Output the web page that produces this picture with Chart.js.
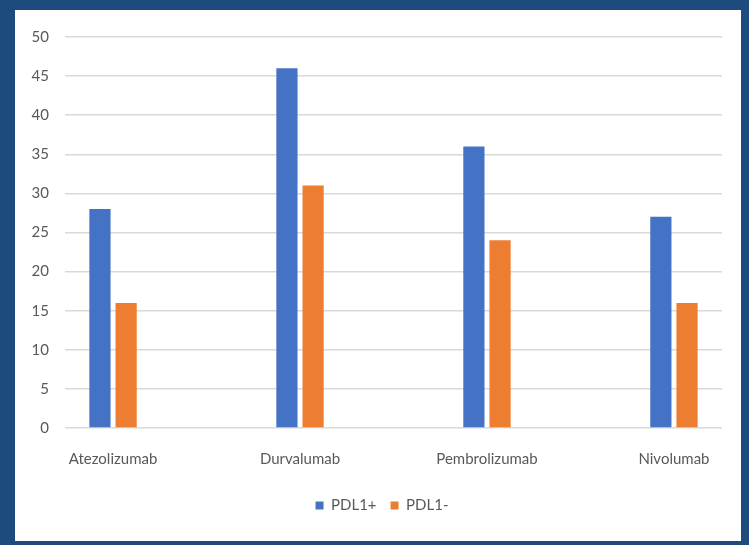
<!DOCTYPE html>
<html>
<head>
<meta charset="utf-8">
<script src="https://cdn.jsdelivr.net/npm/chart.js@4"></script>
<style>
  body { margin: 0; background: #1d4b7e; width: 749px; height: 545px; overflow: hidden; }
  #sheet { position: absolute; left: 15px; top: 10px; width: 726px; height: 531px; background: #ffffff; }
  #cv { position: absolute; left: 0; top: 0; }
</style>
</head>
<body>
<div id="sheet"></div>
<canvas id="cv" width="749" height="545"></canvas>
<script>
// daten
const drugs = ["Atezolizumab", "Durvalumab", "Pembrolizumab", "Nivolumab"];
const pdl1Pos = [28, 46, 36, 27];
const pdl1Neg = [16, 31, 24, 16];
const yTicks = [0, 5, 10, 15, 20, 25, 30, 35, 40, 45, 50];

const textColor = "#595959";
const fontFam = "Lato, 'Open Sans', sans-serif";

let ctx = document.getElementById("cv").getContext("2d");

// legende etwas nach rechts schieben (mitte über dem plotbereich)
const legendShift = {
  id: "legendShift",
  afterLayout(chart) {
    if (chart.legend) chart.legend.left += 42;
  }
};

const config = {
  type: "bar",
  data: {
    datasets: [
      {
        label: "PDL1+",
        data: pdl1Pos.map((v, i) => ({ x: i, y: v })),
        backgroundColor: "#4472c4"
      },
      {
        label: "PDL1-",
        data: pdl1Neg.map((v, i) => ({ x: i, y: v })),
        backgroundColor: "#ed7d31"
      }
    ]
  },
  options: {
    responsive: false,
    animation: false,
    categoryPercentage: 0.28,
    barPercentage: 0.81,
    layout: { padding: { left: 0, right: 27, top: 37, bottom: 22 } },
    scales: {
      x: {
        type: "linear",
        offset: false,
        min: -0.257,
        max: 3.257,
        grid: { display: false },
        border: { display: false },
        afterBuildTicks: (s) => { s.ticks = drugs.map((d, i) => ({ value: i })); },
        afterFit: (s) => { s.height = 56; },
        ticks: {
          autoSkip: false,
          maxRotation: 0,
          padding: 14,
          color: textColor,
          font: { family: fontFam, size: 15 },
          callback: (v) => drugs[v]
        }
      },
      y: {
        min: 0,
        max: 50,
        afterBuildTicks: (s) => { s.ticks = yTicks.map((v) => ({ value: v })); },
        afterFit: (s) => { s.width = 65; },
        grid: { color: "#d9d9d9", lineWidth: 1.5, drawTicks: false },
        border: { display: false },
        ticks: {
          padding: 16,
          color: textColor,
          font: { family: fontFam, size: 15 }
        }
      }
    },
    plugins: {
      legend: {
        position: "bottom",
        labels: {
          boxWidth: 8,
          boxHeight: 8,
          padding: 14,
          color: textColor,
          font: { family: fontFam, size: 15 }
        }
      },
      tooltip: { enabled: false }
    }
  },
  plugins: [legendShift]
};

new Chart(ctx, config);
</script>
</body>
</html>
